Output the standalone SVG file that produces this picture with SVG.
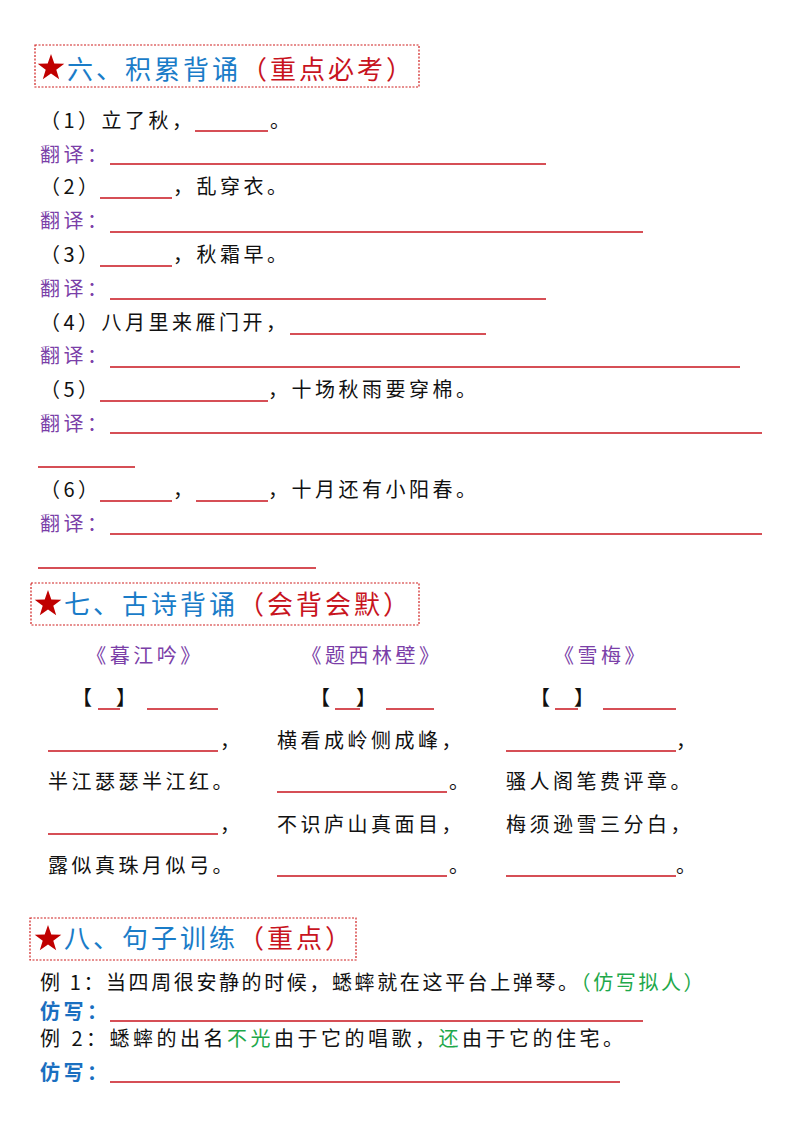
<svg xmlns="http://www.w3.org/2000/svg" width="800" height="1132" viewBox="0 0 800 1132">
<style>
text{font-family:"Noto Sans CJK SC","Noto Sans",sans-serif;font-size:20px;fill:#111;letter-spacing:3.5px}
.h{font-size:26px;fill:#1a7cc8;letter-spacing:3px}
.hr{font-size:26px;fill:#c8141e}
.p{fill:#7b3fa8}
.g{fill:#1ea84a}
.b{fill:#1a6fc0;font-weight:bold}
.u{stroke:#c8141e;stroke-width:1.5}
.box{fill:none;stroke:#d02020;stroke-width:1.2;stroke-dasharray:2 1.5}
.star{fill:#c00000}
</style>
<defs><polygon id="star" points="0,-14 3.3,-4.5 13.3,-4.3 5.3,1.7 8.2,11.3 0,5.6 -8.2,11.3 -5.3,1.7 -13.3,-4.3 -3.3,-4.5"/></defs>
<rect fill="#fff" width="800" height="1132"/>
<g id="sec6">
<rect class="box" x="35" y="45" width="384" height="42"/>
<use href="#star" class="star" transform="translate(51 68)"/>
<text class="h" x="67" y="79">六、积累背诵<tspan class="hr">（重点必考）</tspan></text>
<text x="40" y="128">（1）立了秋，</text><line class="u" x1="195" y1="131" x2="268" y2="131"/><text x="270" y="128">。</text>
<text class="p" x="40" y="162">翻译：</text><line class="u" x1="110" y1="164" x2="546" y2="164"/>
<text x="40" y="194">（2）</text><line class="u" x1="100" y1="198" x2="172" y2="198"/><text x="173" y="194">，乱穿衣。</text>
<text class="p" x="40" y="228">翻译：</text><line class="u" x1="110" y1="232" x2="643" y2="232"/>
<text x="40" y="262">（3）</text><line class="u" x1="100" y1="266" x2="172" y2="266"/><text x="173" y="262">，秋霜早。</text>
<text class="p" x="40" y="296">翻译：</text><line class="u" x1="110" y1="299" x2="546" y2="299"/>
<text x="40" y="330">（4）八月里来雁门开，</text><line class="u" x1="290" y1="334" x2="486" y2="334"/>
<text class="p" x="40" y="363">翻译：</text><line class="u" x1="110" y1="367" x2="740" y2="367"/>
<text x="40" y="397">（5）</text><line class="u" x1="100" y1="401" x2="268" y2="401"/><text x="268" y="397">，十场秋雨要穿棉。</text>
<text class="p" x="40" y="431">翻译：</text><line class="u" x1="110" y1="433" x2="762" y2="433"/><line class="u" x1="38" y1="467" x2="135" y2="467"/>
<text x="40" y="497">（6）</text><line class="u" x1="100" y1="501" x2="172" y2="501"/><text x="173" y="497">，</text><line class="u" x1="196" y1="501" x2="268" y2="501"/><text x="268" y="497">，十月还有小阳春。</text>
<text class="p" x="40" y="531">翻译：</text><line class="u" x1="110" y1="534" x2="762" y2="534"/><line class="u" x1="38" y1="568" x2="316" y2="568"/>
</g>
<g id="sec7">
<rect class="box" x="31" y="583" width="388" height="42"/>
<use href="#star" class="star" transform="translate(48 604)"/>
<text class="h" x="64" y="614">七、古诗背诵<tspan class="hr">（会背会默）</tspan></text>
<text class="p" x="145" y="663" text-anchor="middle">《暮江吟》</text>
<text class="p" x="372" y="663" text-anchor="middle">《题西林壁》</text>
<text class="p" x="601" y="663" text-anchor="middle">《雪梅》</text>
<text x="72" y="705">【</text><line class="u" x1="98" y1="709" x2="120" y2="709"/><text x="116" y="705">】</text><line class="u" x1="147" y1="709" x2="218" y2="709"/>
<text x="310" y="705">【</text><line class="u" x1="335" y1="709" x2="360" y2="709"/><text x="356" y="705">】</text><line class="u" x1="386" y1="709" x2="434" y2="709"/>
<text x="530" y="705">【</text><line class="u" x1="555" y1="709" x2="578" y2="709"/><text x="574" y="705">】</text><line class="u" x1="603" y1="709" x2="676" y2="709"/>
<line class="u" x1="48" y1="751" x2="218" y2="751"/><text x="220" y="748">，</text>
<text x="48" y="789">半江瑟瑟半江红。</text>
<line class="u" x1="48" y1="834" x2="218" y2="834"/><text x="220" y="832">，</text>
<text x="48" y="873">露似真珠月似弓。</text>
<text x="277" y="748">横看成岭侧成峰，</text>
<line class="u" x1="277" y1="792" x2="447" y2="792"/><text x="449" y="789">。</text>
<text x="277" y="832">不识庐山真面目，</text>
<line class="u" x1="277" y1="876" x2="447" y2="876"/><text x="449" y="873">。</text>
<line class="u" x1="506" y1="751" x2="676" y2="751"/><text x="676" y="748">，</text>
<text x="506" y="789">骚人阁笔费评章。</text>
<text x="506" y="832">梅须逊雪三分白，</text>
<line class="u" x1="506" y1="876" x2="676" y2="876"/><text x="676" y="873">。</text>
</g>
<g id="sec8">
<rect class="box" x="30" y="918" width="326" height="42"/>
<use href="#star" class="star" transform="translate(48 939)"/>
<text class="h" x="64" y="948">八、句子训练<tspan class="hr">（重点）</tspan></text>
<text x="40" y="990" style="letter-spacing:2.6px">例 1：当四周很安静的时候，蟋蟀就在这平台上弹琴。<tspan class="g">（仿写拟人）</tspan></text>
<text class="b" x="40" y="1019">仿写：</text><line class="u" x1="110" y1="1021" x2="643" y2="1021"/>
<text x="40" y="1046">例 2：蟋蟀的出名<tspan class="g">不光</tspan>由于它的唱歌，<tspan class="g">还</tspan>由于它的住宅。</text>
<text class="b" x="40" y="1080">仿写：</text><line class="u" x1="110" y1="1082" x2="620" y2="1082"/>
</g>
</svg>
